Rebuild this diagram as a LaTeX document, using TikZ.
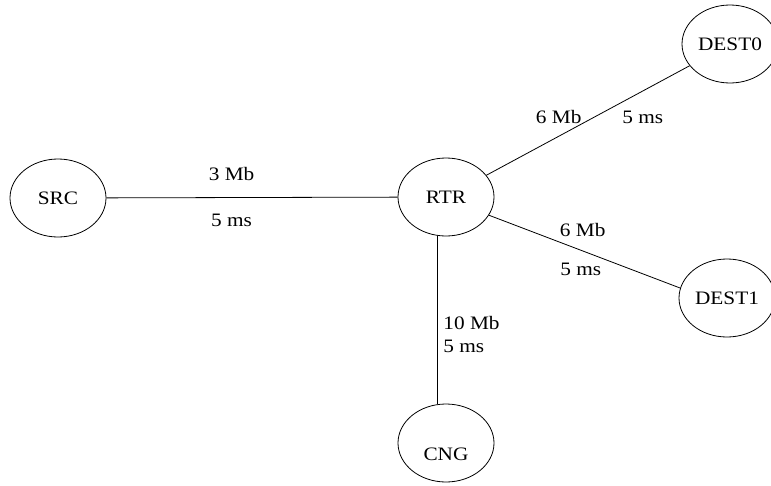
\documentclass[tikz,border=0pt]{standalone}
\usepackage{fontspec}
\setmainfont[FakeStretch=1.12]{Liberation Serif}
\usepackage{tikz}
\usetikzlibrary{shapes.geometric}

\begin{document}
\begin{tikzpicture}[x=1pt, y=-1pt, line width=0.8pt, font=\fontsize{19}{23}\selectfont,
  station/.style={draw, ellipse, inner sep=0pt, minimum width=96pt, minimum height=78pt},
  link/.style={inner sep=0pt}]
  \useasboundingbox (0,0) rectangle (771,485);
  \node[station] (SRC) at (58,198) {SRC};
  \node[station] (RTR) at (446,197) {RTR};
  \node[station] (DEST0) at (730,44) {DEST0};
  \node[station] (DEST1) at (727,298) {DEST1};
  \node[station, text height=34pt, text depth=0pt] (CNG) at (446,443) {CNG};
  \draw (SRC) -- (RTR)
    node[link, pos=0.43, above=16pt]{3 Mb}
    node[link, pos=0.43, below=16pt]{5 ms};
  \draw (RTR) -- (DEST0)
    node[link, pos=0.47, anchor=base east]{6 Mb}
    node[link, pos=0.47, anchor=base west, xshift=40pt]{5 ms};
  \draw (RTR.-23) -- (DEST1.168)
    node[link, pos=0.49, above=14pt]{6 Mb}
    node[link, pos=0.48, below=12pt]{5 ms};
  \draw (RTR.257) -- (CNG.103)
    node[link, pos=0.585, right=6pt, align=left]{10 Mb\\5 ms};
\end{tikzpicture}
\end{document}
